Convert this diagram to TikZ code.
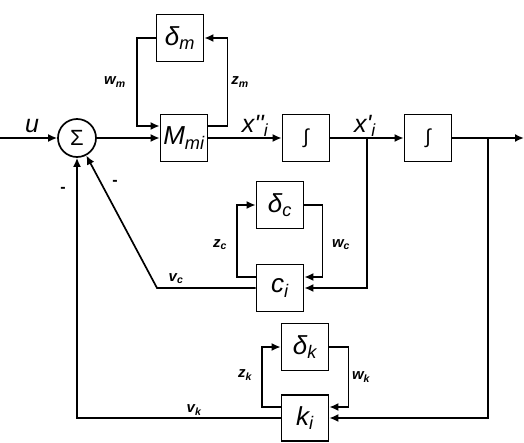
\documentclass[tikz,border=0pt]{standalone}
\usepackage{fontspec}
\setmainfont{Liberation Sans}
\usetikzlibrary{arrows.meta}

\begin{document}
\begin{tikzpicture}[x=1pt,y=-1pt,line width=1.7pt,
    >={Latex[length=9pt,width=8pt]},
    blk/.style={draw,minimum width=47pt,minimum height=47pt,inner sep=0pt,
      font=\fontsize{26}{30}\selectfont\itshape},
    intblk/.style={blk,font=\fontsize{20}{24}\selectfont},
    lbl/.style={font=\fontsize{15}{18}\selectfont\bfseries\itshape,inner sep=0pt},
    sig/.style={font=\fontsize{25}{30}\selectfont\itshape,inner sep=0pt}]
  \useasboundingbox (0,0) rectangle (524,442);

  % forward path
  \node[draw,circle,minimum size=38pt,inner sep=0pt,font=\fontsize{22}{26}\selectfont] (sum) at (77,138) {Σ};
  \node[blk] (Mmi) at (184,138) {M\textsubscript{mi}};
  \node[blk] (dm) at (180,38) {δ\textsubscript{m}};
  \node[intblk] (int1) at (306,138) {∫};
  \node[intblk] (int2) at (428,138) {∫};
  \coordinate (in) at (0,138);
  \coordinate (out) at (524,138);
  \coordinate (j1) at (367,138);
  \coordinate (j2) at (488,138);

  % damping and stiffness
  \node[blk] (dc) at (280,205) {δ\textsubscript{c}};
  \node[blk] (ci) at (280,288) {c\textsubscript{i}};
  \node[blk] (dk) at (305,347) {δ\textsubscript{k}};
  \node[blk,minimum height=46pt] (ki) at (305,418) {k\textsubscript{i}};
  \coordinate (vcbend) at (157,288);

  \draw[->] (in) -- (sum);
  \draw[->] (sum) -- (Mmi);
  \draw[->] (Mmi) -- (int1);
  \draw[->] (int1) -- (int2);
  \draw[->] (int2) -- (out);

  % mass uncertainty loop
  \draw[->] ([yshift=12pt]Mmi.east) -- ++(19,0) |- (dm.east);
  \draw[->] (dm.west) -- ++(-19,0) |- ([yshift=12pt]Mmi.west);

  % damping loop
  \draw[->] (j1) |- (ci.east);
  \draw[->] ([yshift=11pt]ci.west) -- ++(-19,0) |- (dc.west);
  \draw[->] (dc.east) -- ++(18,0) |- ([yshift=11pt]ci.east);
  \draw[->] (ci.west) -- (vcbend) -- (sum);

  % stiffness loop
  \draw[->] (j2) |- (ki.east);
  \draw[->] ([yshift=11pt]ki.west) -- ++(-19,0) |- (dk.west);
  \draw[->] (dk.east) -- ++(19,0) |- ([yshift=11pt]ki.east);
  \draw[->] (ki.west) -| (sum.south);

  % labels
  \node[sig] at (32,126) {u};
  \node[sig] at (255,126) {x\textquotesingle\textquotesingle\textsubscript{i}};
  \node[sig] at (365,126) {x\textquotesingle\textsubscript{i}};
  \node[lbl] at (115,82) {w\textsubscript{m}};
  \node[lbl] at (240,82) {z\textsubscript{m}};
  \node[lbl] at (220,245) {z\textsubscript{c}};
  \node[lbl] at (341,245) {w\textsubscript{c}};
  \node[lbl] at (176,279) {v\textsubscript{c}};
  \node[lbl] at (245,375) {z\textsubscript{k}};
  \node[lbl] at (361,377) {w\textsubscript{k}};
  \node[lbl] at (194,410) {v\textsubscript{k}};
  \node[lbl,font=\fontsize{16}{18}\selectfont\bfseries] at (63,190) {-};
  \node[lbl,font=\fontsize{16}{18}\selectfont\bfseries] at (115,183) {-};
\end{tikzpicture}
\end{document}
